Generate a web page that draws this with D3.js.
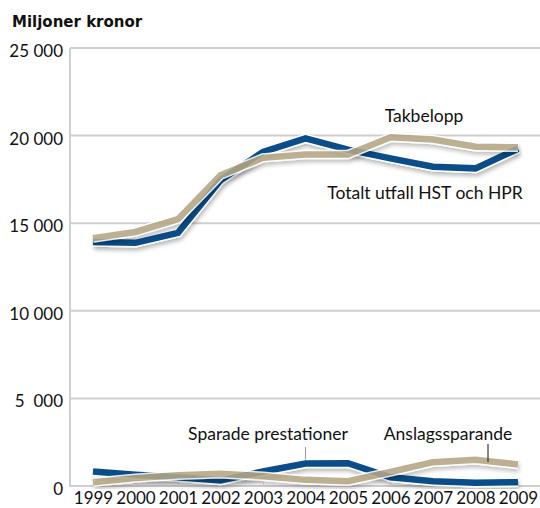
<!DOCTYPE html>
<html>
<head>
<meta charset="utf-8">
<script src="https://cdn.jsdelivr.net/npm/d3@7"></script>
<style>
  body { margin: 0; background: #fff; }
  svg text { font-family: Lato, "Open Sans", sans-serif; fill: #111; }
</style>
</head>
<body>
<svg width="540" height="508"></svg>
<script>
// data (miljoner kronor)
var years = [1999, 2000, 2001, 2002, 2003, 2004, 2005, 2006, 2007, 2008, 2009];
var takbelopp = [14150, 14500, 15230, 17740, 18730, 18920, 18920, 19900, 19780, 19360, 19330];
var totaltUtfall = [13930, 13880, 14450, 17450, 19070, 19840, 19200, 18700, 18220, 18130, 19250];
var sparadePrestationer = [830, 640, 500, 310, 830, 1280, 1300, 500, 270, 180, 220];
var anslagssparande = [220, 450, 620, 700, 560, 350, 270, 800, 1360, 1500, 1230];
var yTicks = [0, 5000, 10000, 15000, 20000, 25000];
var yTickLabels = ["0", "5  000", "10 000", "15 000", "20 000", "25 000"];

var blue = "#0b4d88", tan = "#b4a684", grid = "#cfcfcf";

var svg = d3.select("svg");
var x = d3.scaleLinear().domain([1999, 2009]).range([93, 518]);
var y = d3.scaleLinear().domain([0, 25000]).range([486, 48]);

var defs = svg.append("defs");
var f = defs.append("filter").attr("id", "shadow")
    .attr("x", "-5%").attr("y", "-30%").attr("width", "110%").attr("height", "160%");
f.append("feDropShadow").attr("dx", 1).attr("dy", 3).attr("stdDeviation", 2)
    .attr("flood-color", "#000").attr("flood-opacity", 0.28);

// gridlines
svg.append("g").selectAll("line")
    .data(yTicks.slice(1))
    .enter().append("line")
    .attr("x1", 70).attr("x2", 540)
    .attr("y1", function(d){return y(d);})
    .attr("y2", function(d){return y(d);})
    .attr("stroke", grid).attr("stroke-width", 2);

// y axis
var yAxis = svg.append("g").attr("transform", "translate(70,0)")
    .call(d3.axisLeft(y).tickValues(yTicks).tickSize(0).tickPadding(7)
        .tickFormat(function(d,i){return yTickLabels[i];}));
yAxis.select(".domain").attr("stroke", grid).attr("stroke-width", 2)
    .attr("d", "M0," + y(25000) + "V" + (y(0) + 1));
yAxis.selectAll("text").attr("font-size", 17).style("white-space", "pre").attr("dy", "0.5em");

// x axis
var xAxis = svg.append("g").attr("transform", "translate(0," + y(0) + ")")
    .call(d3.axisTop(x).tickValues(years).tickSize(4).tickFormat(d3.format("d")));
xAxis.select(".domain").attr("stroke", grid).attr("stroke-width", 2)
    .attr("d", "M69,0H540");
xAxis.selectAll(".tick line").attr("stroke", "#ddd").attr("stroke-width", 1);
xAxis.selectAll("text").attr("font-size", 17).attr("y", 18).attr("dy", 0);

svg.append("text").attr("x", 12).attr("y", 27)
    .style("font-family", "'DejaVu Sans', sans-serif")
    .attr("font-size", 15).attr("font-weight", "bold").text("Miljoner kronor");

var line = d3.line()
    .x(function(d,i){return x(years[i]);})
    .y(function(d){return y(d);});

function drawSeries(values, color, opacity) {
    var g = svg.append("g").attr("opacity", opacity);
    g.append("path").attr("d", line(values))
        .attr("fill", "none").attr("stroke", "#fff").attr("stroke-width", 9.5)
        .attr("stroke-linejoin", "miter").attr("filter", "url(#shadow)");
    g.append("path").attr("d", line(values))
        .attr("fill", "none").attr("stroke", color).attr("stroke-width", 6.5)
        .attr("stroke-linejoin", "miter");
}

drawSeries(totaltUtfall, blue, 1);
drawSeries(takbelopp, tan, 0.88);
drawSeries(sparadePrestationer, blue, 1);
drawSeries(anslagssparande, tan, 0.88);

// annotations
svg.append("text").attr("x", 424).attr("y", 122).attr("font-size", 17.5)
    .attr("text-anchor", "middle").text("Takbelopp");
svg.append("text").attr("x", 425).attr("y", 199).attr("font-size", 17.5)
    .attr("text-anchor", "middle").text("Totalt utfall HST och HPR");
svg.append("text").attr("x", 268).attr("y", 440).attr("font-size", 17.5)
    .attr("text-anchor", "middle").text("Sparade prestationer");
svg.append("text").attr("x", 448).attr("y", 440).attr("font-size", 17.5)
    .attr("text-anchor", "middle").text("Anslagssparande");
svg.append("line").attr("x1", x(2004)).attr("x2", x(2004))
    .attr("y1", 447).attr("y2", y(sparadePrestationer[5]) - 4)
    .attr("stroke", "#999").attr("stroke-width", 1);
svg.append("line").attr("x1", 488).attr("x2", 488)
    .attr("y1", 444).attr("y2", 462)
    .attr("stroke", "#111").attr("stroke-width", 1);
</script>
</body>
</html>
